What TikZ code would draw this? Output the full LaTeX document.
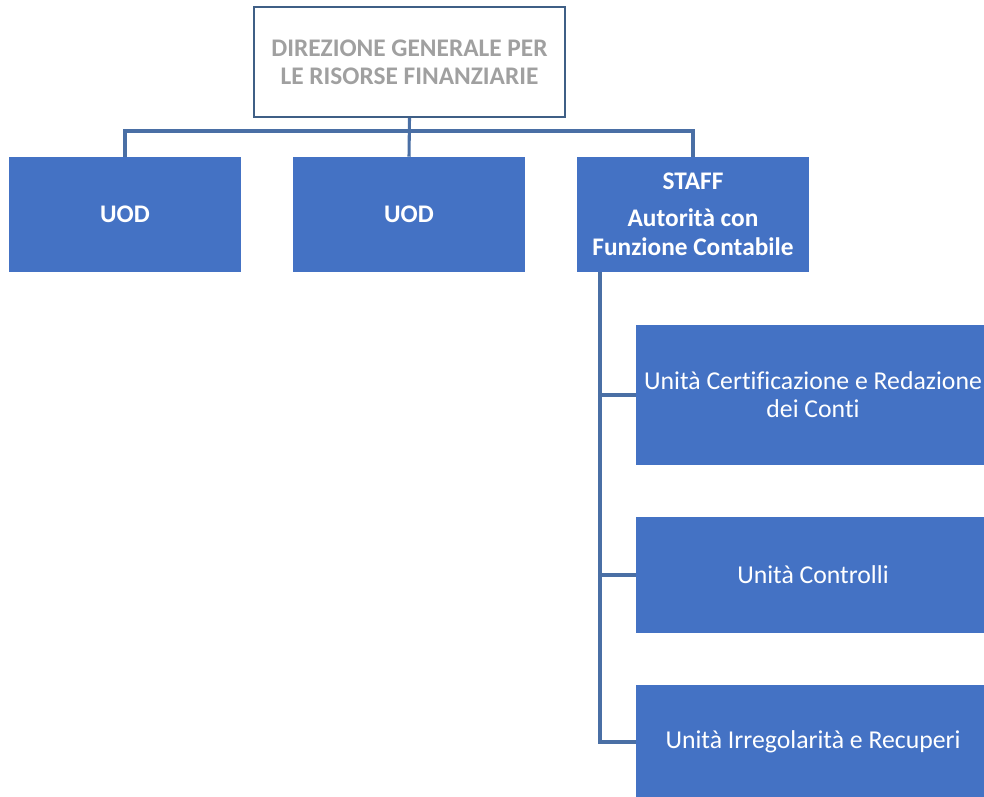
\documentclass[tikz,border=0pt]{standalone}
\usepackage{fontspec}
\setmainfont[Ligatures=CommonOff]{Carlito}
\definecolor{boxblue}{HTML}{4472C4}
\definecolor{linkblue}{HTML}{4A6FA5}
\definecolor{frameblue}{HTML}{3F5F86}
\definecolor{headgrey}{HTML}{A0A0A0}
\begin{document}
\begin{tikzpicture}[x=0.75pt,y=-0.75pt,
  unitbox/.style={fill=boxblue, draw=none, text=white, inner sep=0pt, align=center},
  headbox/.style={draw=frameblue, line width=1.6pt, fill=white, inner sep=0pt, align=center,
    text=headgrey, font=\fontsize{19}{21}\selectfont\bfseries},
  boldtxt/.style={font=\fontsize{19}{21.75}\selectfont\bfseries},
  plaintxt/.style={font=\fontsize{19.3}{21}\selectfont},
  conn/.style={draw=linkblue, line width=2.3pt}]
\clip (0,0) rectangle (984,796);
\fill[white] (0,0) rectangle (984,796);

% top level
\node[headbox, minimum width=311*0.75pt, minimum height=110*0.75pt] (top) at (409.5,62)
  {DIREZIONE GENERALE PER\\LE RISORSE FINANZIARIE};

% second level
\node[unitbox, boldtxt, minimum width=232*0.75pt, minimum height=115*0.75pt] (uod1) at (125,214.5) {UOD};
\node[unitbox, boldtxt, minimum width=232*0.75pt, minimum height=115*0.75pt] (uod2) at (409,214.5) {UOD};
\node[unitbox, minimum width=232*0.75pt, minimum height=115*0.75pt] (staff) at (693,214.5) {};
\node[boldtxt, text=white, align=center] (stafftxt) at (693,214.5)
  {STAFF\\[6pt]Autorità con\\Funzione Contabile};

% staff units
\node[unitbox, plaintxt, minimum width=354*0.75pt, minimum height=140*0.75pt] (c1) at (813,395)
  {Unità Certificazione e Redazione\\dei Conti};
\node[unitbox, plaintxt, minimum width=354*0.75pt, minimum height=116*0.75pt] (c2) at (813,575)
  {Unità Controlli};
\node[unitbox, plaintxt, minimum width=354*0.75pt, minimum height=114*0.75pt] (c3) at (813,742)
  {Unità Irregolarità e Recuperi};

% connectors: top bus
\coordinate (bus) at (409,131);
\draw[conn] (top.south) -- (uod2.north);
\draw[conn] (uod1.north) |- (bus);
\draw[conn] (bus) -| (staff.north);

% connectors: staff trunk
\coordinate (trunk) at (600,272);
\draw[conn] (trunk) |- (c3.west);
\draw[conn] (trunk |- c1.west) -- (c1.west);
\draw[conn] (trunk |- c2.west) -- (c2.west);
\end{tikzpicture}
\end{document}
